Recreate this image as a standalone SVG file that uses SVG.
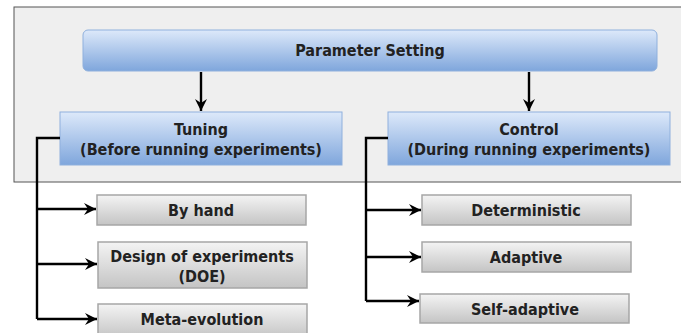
<svg xmlns="http://www.w3.org/2000/svg" width="681" height="333" viewBox="0 0 681 333">
<defs>
<linearGradient id="blue" x1="0" y1="0" x2="0" y2="1"><stop offset="0" stop-color="#dde9fa"/><stop offset="1" stop-color="#7fa6dc"/></linearGradient>
<linearGradient id="grey" x1="0" y1="0" x2="0" y2="1"><stop offset="0" stop-color="#f4f4f4"/><stop offset="1" stop-color="#c4c4c4"/></linearGradient>
<marker id="ah" viewBox="0 0 12 12" refX="12" refY="6" markerWidth="12" markerHeight="12" markerUnits="userSpaceOnUse" orient="auto"><path d="M0,0 L12,6 L0,12 L4,6 Z" fill="#000"/></marker>
<style>
.b{fill:url(#blue);stroke:#8fb0dd;stroke-width:1}
.g{fill:url(#grey);stroke:#a6a6a6;stroke-width:1.5}
text{font-family:"DejaVu Sans Condensed","DejaVu Sans",sans-serif;font-stretch:condensed;font-weight:bold;font-size:16px;fill:#222;text-anchor:middle}
.c{fill:none;stroke:#000;stroke-width:2.4}
</style>
</defs>
<rect x="14" y="7" width="670" height="175" fill="#efefef" stroke="#555" stroke-width="1"/>
<g id="param"><rect class="b" x="83" y="30" width="574" height="41" rx="5"/><text x="370" y="56">Parameter Setting</text></g>
<g id="tuning"><rect class="b" x="60" y="112" width="282" height="53"/><text x="201" y="135">Tuning</text><text x="201" y="155">(Before running experiments)</text></g>
<g id="control"><rect class="b" x="388" y="112" width="282" height="53"/><text x="529" y="135">Control</text><text x="529" y="155">(During running experiments)</text></g>
<g id="byhand"><rect class="g" x="97" y="195" width="209" height="30"/><text x="201" y="216">By hand</text></g>
<g id="doe"><rect class="g" x="98" y="242" width="209" height="46"/><text x="202" y="262">Design of experiments</text><text x="202" y="282">(DOE)</text></g>
<g id="meta"><rect class="g" x="98" y="304" width="209" height="34"/><text x="202" y="325">Meta-evolution</text></g>
<g id="deterministic"><rect class="g" x="422" y="195" width="209" height="30"/><text x="526" y="216">Deterministic</text></g>
<g id="adaptive"><rect class="g" x="422" y="242" width="209" height="30"/><text x="526" y="263">Adaptive</text></g>
<g id="selfadaptive"><rect class="g" x="420" y="294" width="209" height="29"/><text x="525" y="315">Self-adaptive</text></g>
<g id="connectors">
<path class="c" d="M201,72 V111" marker-end="url(#ah)"/>
<path class="c" d="M529,72 V111" marker-end="url(#ah)"/>
<path class="c" d="M60,138 H37 V319"/>
<path class="c" d="M37,209 H96" marker-end="url(#ah)"/>
<path class="c" d="M37,264 H97" marker-end="url(#ah)"/>
<path class="c" d="M37,319 H97" marker-end="url(#ah)"/>
<path class="c" d="M388,138 H366 V301"/>
<path class="c" d="M366,210 H421" marker-end="url(#ah)"/>
<path class="c" d="M366,257 H421" marker-end="url(#ah)"/>
<path class="c" d="M366,301 H419" marker-end="url(#ah)"/>
</g>
</svg>
